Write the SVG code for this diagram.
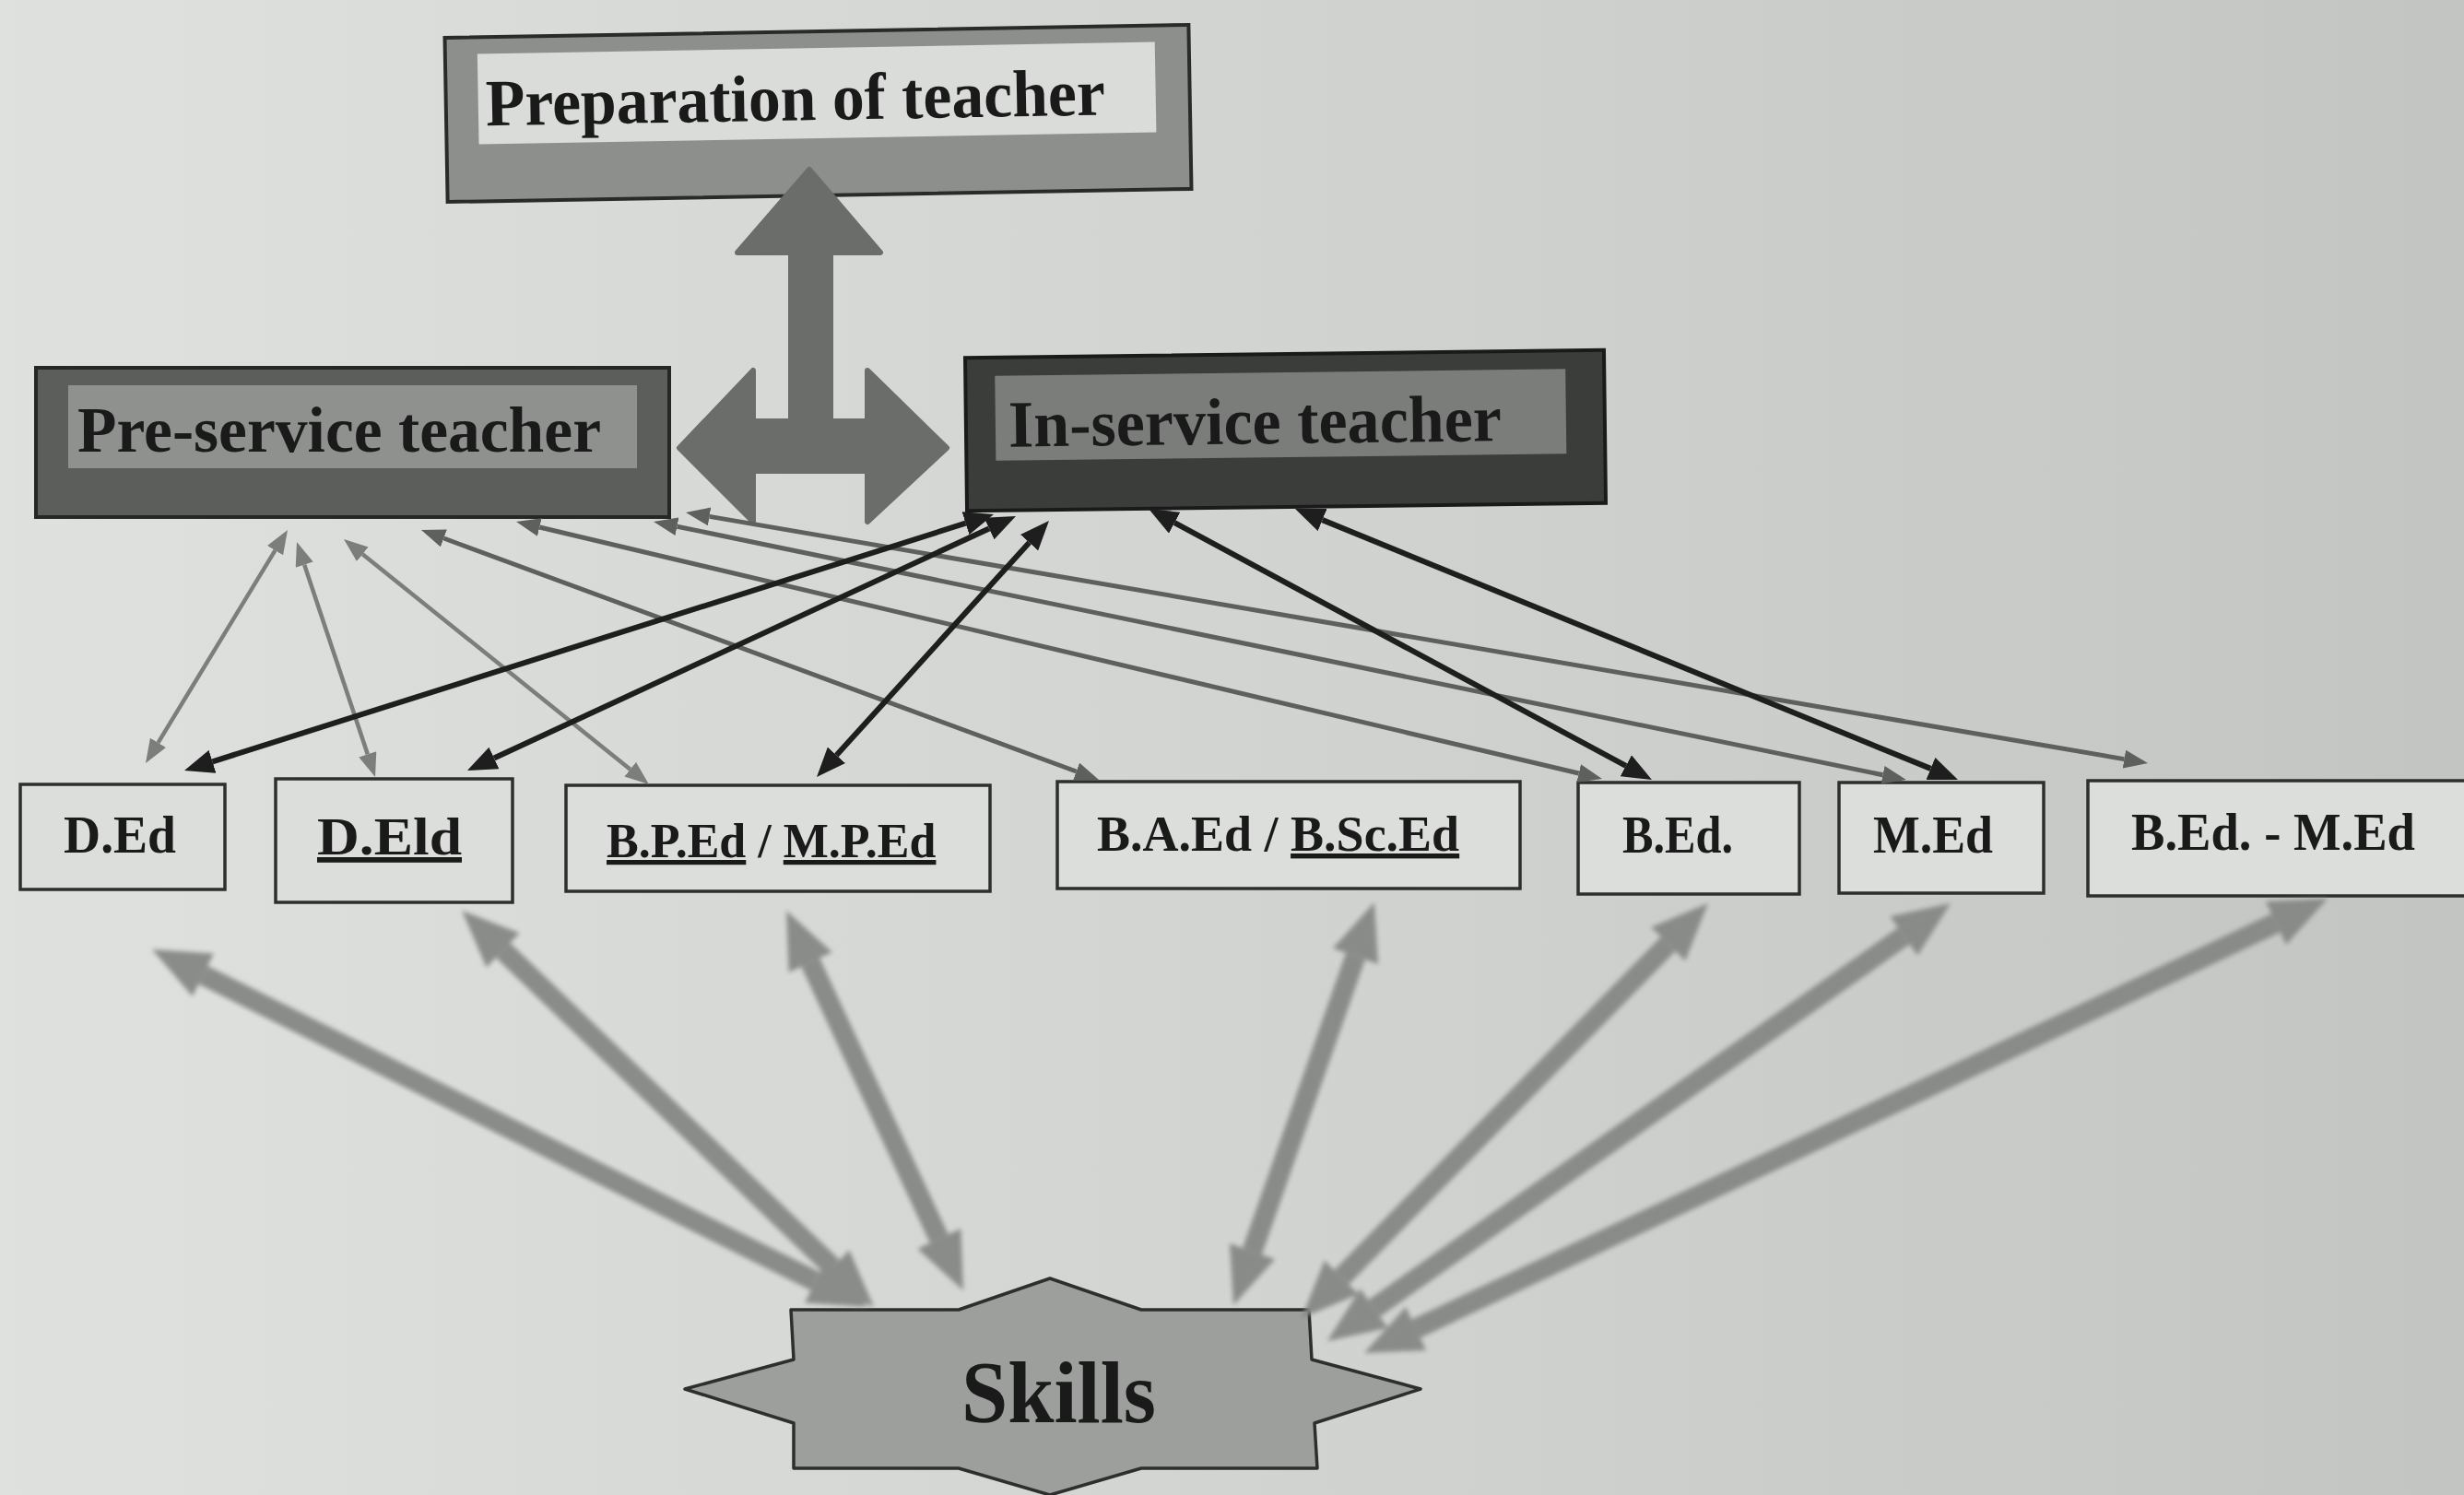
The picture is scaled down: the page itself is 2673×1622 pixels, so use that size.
<svg xmlns="http://www.w3.org/2000/svg" width="2673" height="1622" viewBox="0 0 2673 1622">
<defs>
<linearGradient id="bg" x1="0" y1="0" x2="1" y2="0">
<stop offset="0" stop-color="#dfe1de"/>
<stop offset="0.5" stop-color="#d2d4d1"/>
<stop offset="1" stop-color="#c3c5c2"/>
</linearGradient>
<filter id="soft" x="-10%" y="-10%" width="120%" height="120%"><feGaussianBlur stdDeviation="2.5"/></filter>
<marker id="hg" markerUnits="userSpaceOnUse" viewBox="0 -10 26 20" markerWidth="26" markerHeight="20" refX="0" refY="0" orient="auto-start-reverse"><path d="M0,-10 L26,0 L0,10 Z" fill="#7c7e7c"/></marker>
<marker id="hg2" markerUnits="userSpaceOnUse" viewBox="0 -10 26 20" markerWidth="26" markerHeight="20" refX="0" refY="0" orient="auto-start-reverse"><path d="M0,-10 L26,0 L0,10 Z" fill="#5e605e"/></marker>
<marker id="hk" markerUnits="userSpaceOnUse" viewBox="0 -13 32 26" markerWidth="32" markerHeight="26" refX="0" refY="0" orient="auto-start-reverse"><path d="M0,-13 L32,0 L0,13 Z" fill="#1e1e1e"/></marker>
<marker id="ht" markerUnits="userSpaceOnUse" viewBox="0 -26 62 52" markerWidth="62" markerHeight="52" refX="0" refY="0" orient="auto-start-reverse"><path d="M0,-26 L62,0 L0,26 Z" fill="#868886"/></marker>
</defs>
<style>
.lbl{font-family:"Liberation Serif","DejaVu Serif",serif;font-weight:bold;fill:#1a1a1a}
.box{fill:#dcdedb;stroke:#2e2e2e;stroke-width:3.5}
.gl{stroke:#7c7e7c;stroke-width:4.5;fill:none;marker-start:url(#hg);marker-end:url(#hg)}
.gd{stroke:#5e605e;stroke-width:5;fill:none;marker-start:url(#hg2);marker-end:url(#hg2)}
.bk{stroke:#1e1e1e;stroke-width:6;fill:none;marker-start:url(#hk);marker-end:url(#hk)}
.tk{stroke:#868886;stroke-width:22;fill:none;marker-start:url(#ht);marker-end:url(#ht)}
.ul{text-decoration:underline}
</style>
<rect x="0" y="0" width="2673" height="1622" fill="url(#bg)"/>

<g id="preparation" transform="rotate(-1 887 123)">
<rect x="484" y="34" width="807" height="178" fill="#8d8f8d" stroke="#2a2a2a" stroke-width="4"/>
<rect x="519" y="52" width="735" height="98" fill="#dadcd9"/>
<text class="lbl" x="527" y="130" font-size="72" textLength="672" lengthAdjust="spacingAndGlyphs">Preparation of teacher</text>
</g>

<g id="pre-service">
<rect x="39" y="399" width="687" height="162" fill="#5c5e5c" stroke="#262626" stroke-width="4"/>
<rect x="74" y="418" width="617" height="90" fill="#8f918f"/>
<text class="lbl" x="84" y="490" font-size="70" textLength="568" lengthAdjust="spacingAndGlyphs">Pre-service teacher</text>
</g>

<g id="in-service" transform="rotate(-0.7 1395 467)">
<rect x="1048" y="384" width="693" height="166" fill="#3b3d3b" stroke="#1a1a1a" stroke-width="4"/>
<rect x="1080" y="404" width="619" height="92" fill="#7b7d7b"/>
<text class="lbl" x="1094" y="481" font-size="72" textLength="535" lengthAdjust="spacingAndGlyphs">In-service teacher</text>
</g>

<g id="ded">
<rect class="box" x="22" y="851" width="222" height="114"/>
<text class="lbl" x="69" y="925" font-size="58" textLength="122" lengthAdjust="spacingAndGlyphs">D.Ed</text>
</g>
<g id="deld">
<rect class="box" x="299" y="845" width="257" height="134"/>
<text class="lbl ul" x="344" y="927" font-size="58" textLength="157" lengthAdjust="spacingAndGlyphs">D.Eld</text>
</g>
<g id="bped">
<rect class="box" x="614" y="852" width="460" height="115"/>
<text class="lbl" x="658" y="930" font-size="52"><tspan class="ul">B.P.Ed</tspan> / <tspan class="ul">M.P.Ed</tspan></text>
</g>
<g id="baed">
<rect class="box" x="1147" y="848" width="502" height="116"/>
<text class="lbl" x="1190" y="923" font-size="54">B.A.Ed / <tspan class="ul">B.Sc.Ed</tspan></text>
</g>
<g id="bed">
<rect class="box" x="1712" y="849" width="240" height="121"/>
<text class="lbl" x="1760" y="925" font-size="58" textLength="120" lengthAdjust="spacingAndGlyphs">B.Ed.</text>
</g>
<g id="med">
<rect class="box" x="1995" y="849" width="222" height="120"/>
<text class="lbl" x="2032" y="925" font-size="58" textLength="130" lengthAdjust="spacingAndGlyphs">M.Ed</text>
</g>
<g id="bed-med">
<rect class="box" x="2265" y="847" width="420" height="125"/>
<text class="lbl" x="2312" y="922" font-size="58" textLength="308" lengthAdjust="spacingAndGlyphs">B.Ed. - M.Ed</text>
</g>

<g id="skills">
<path d="M858,1421 L1040,1421 L1139,1387 L1238,1421 L1420,1421 L1423,1475 L1541,1507 L1426,1544 L1429,1593 L1238,1593 L1139,1622 L1040,1593 L861,1593 L861,1544 L743,1507 L861,1475 Z" fill="#9d9f9c" stroke="#2e2e2e" stroke-width="3.5" stroke-linejoin="round"/>
<text class="lbl" x="1043" y="1543" font-size="95" textLength="211" lengthAdjust="spacingAndGlyphs">Skills</text>
</g>

<g id="connectors">
<path d="M878,184 L955,274 L901,274 L901,457 L941,457 L941,402 L1027,486 L941,566 L941,511 L817,511 L817,566 L737,486 L817,402 L817,457 L858,457 L858,274 L800,274 Z" fill="#6b6d6b" stroke="#6b6d6b" stroke-width="6" stroke-linejoin="round"/>
<line class="gl" x1="298.5" y1="597.2" x2="171.5" y2="805.8"/>
<line class="gl" x1="330.2" y1="612.7" x2="398.8" y2="818.3"/>
<line class="gl" x1="393.3" y1="601.3" x2="683.7" y2="834.7"/>
<line class="gd" x1="481.4" y1="584" x2="1167.6" y2="837"/>
<line class="gd" x1="585.3" y1="572" x2="1712.7" y2="839"/>
<line class="gd" x1="734.5" y1="571.2" x2="2042.5" y2="840.8"/>
<line class="gd" x1="769.6" y1="560.4" x2="2304.4" y2="823.6"/>
<line class="bk" x1="1047.5" y1="567.7" x2="230.5" y2="826.3"/>
<line class="bk" x1="1073" y1="573.5" x2="536" y2="822.5"/>
<line class="bk" x1="1116.5" y1="588.7" x2="907.5" y2="819.3"/>
<line class="bk" x1="1274.2" y1="567.2" x2="1763.8" y2="830.8"/>
<line class="bk" x1="1434.6" y1="564.1" x2="2094.4" y2="833.9"/>
<g filter="url(#soft)" opacity="0.95">
<line class="tk" x1="220.4" y1="1057.8" x2="884.6" y2="1390.2"/>
<line class="tk" x1="545.7" y1="1031" x2="903.3" y2="1375"/>
<line class="tk" x1="879.2" y1="1044.2" x2="1018.8" y2="1343.8"/>
<line class="tk" x1="1470.5" y1="1037.5" x2="1358.5" y2="1357.5"/>
<line class="tk" x1="1809.6" y1="1024.3" x2="1455.4" y2="1385.7"/>
<line class="tk" x1="2065.3" y1="1015.6" x2="1490.7" y2="1419.4"/>
<line class="tk" x1="2468.9" y1="1001.5" x2="1536.1" y2="1441.5"/>
</g>
</g>
</svg>
